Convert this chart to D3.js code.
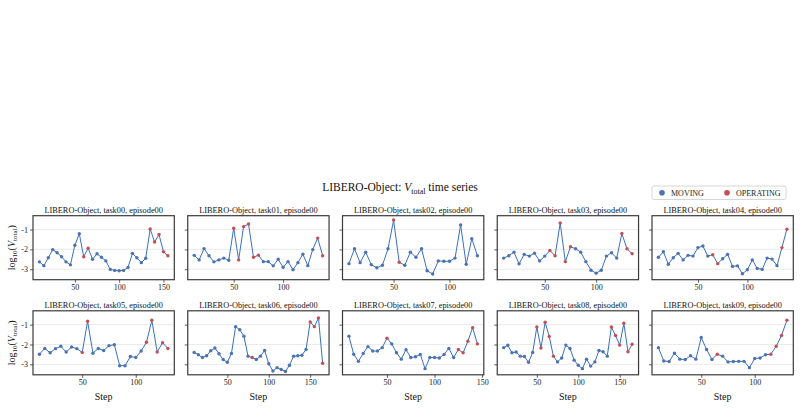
<!DOCTYPE html>
<html>
<head>
<meta charset="utf-8">
<script src="https://cdn.jsdelivr.net/npm/d3@7"></script>
<style>
  body { margin: 0; background: #fff; }
  svg { font-family: "Liberation Serif", "Times New Roman", serif; }
</style>
</head>
<body>
<div id="chart"></div>
<script>
// steps are sampled every 5 env steps, starting at step 10
var firstStep = 10, stepInterval = 5;

var tasks = ["task00", "task01", "task02", "task03", "task04",
             "task05", "task06", "task07", "task08", "task09"];

// log10(V_total) per sample
var vTask00 = [-2.63, -2.82, -2.42, -2.01, -2.17, -2.37, -2.63, -2.78, -1.79, -1.21,
               -2.37, -1.94, -2.50, -2.22, -2.40, -2.58, -3.01, -3.06, -3.08, -3.06,
               -2.91, -2.20, -2.42, -2.67, -2.45, -0.97, -1.63, -1.25, -2.12, -2.32];
var vTask01 = [-2.30, -2.53, -1.96, -2.32, -2.63, -2.53, -2.44, -2.55, -0.93, -2.53,
               -0.85, -0.72, -2.40, -2.29, -2.62, -2.62, -2.83, -2.50, -2.90, -2.62,
               -3.03, -2.67, -2.24, -2.82, -2.01, -1.43, -2.32];
var vTask02 = [-2.72, -1.97, -2.67, -2.14, -2.77, -2.93, -2.80, -1.97, -0.52, -2.65,
               -2.80, -2.14, -2.40, -1.97, -3.08, -3.24, -2.58, -2.60, -2.60, -2.44,
               -0.77, -2.75, -1.46, -2.32];
var vTask03 = [-2.44, -2.32, -2.14, -2.73, -2.25, -2.34, -2.19, -2.58, -2.34, -2.06,
               -2.32, -0.67, -2.62, -1.87, -1.97, -2.14, -2.62, -3.05, -3.20, -3.05,
               -2.34, -2.17, -2.44, -1.20, -1.97, -2.22];
var vTask04 = [-2.40, -2.12, -2.75, -2.42, -2.20, -2.53, -2.30, -2.34, -1.91, -1.83,
               -2.34, -2.27, -2.72, -2.47, -2.25, -2.86, -2.83, -3.23, -3.03, -2.53,
               -2.96, -3.01, -2.44, -2.49, -2.82, -1.91, -0.98];
var vTask05 = [-2.49, -2.20, -2.42, -2.21, -2.09, -2.38, -2.13, -2.21, -2.40, -0.83,
               -2.44, -2.20, -2.30, -2.06, -2.01, -3.07, -3.07, -2.61, -2.66, -2.33,
               -1.89, -0.78, -2.38, -1.91, -2.20];
var vTask06 = [-2.40, -2.52, -2.66, -2.57, -2.32, -2.18, -2.47, -2.76, -2.90, -2.45,
               -1.10, -1.26, -1.58, -2.59, -2.66, -2.76, -2.59, -2.30, -2.97, -3.34,
               -3.17, -3.26, -3.36, -3.05, -2.59, -2.57, -2.54, -2.25, -0.86, -1.10,
               -0.66, -2.95];
var vTask07 = [-1.58, -2.49, -2.85, -2.45, -2.11, -2.33, -2.33, -2.16, -1.68, -1.97,
               -2.42, -2.74, -2.26, -2.66, -2.62, -2.50, -3.22, -2.66, -2.66, -2.68,
               -2.50, -2.20, -2.66, -2.25, -2.42, -1.84, -1.15, -1.97];
var vTask08 = [-2.16, -2.04, -2.42, -2.38, -2.59, -2.61, -2.90, -2.40, -1.12, -2.18,
               -0.88, -1.60, -2.59, -2.88, -2.68, -2.03, -2.20, -2.79, -3.05, -3.22,
               -2.74, -3.09, -2.88, -2.30, -2.37, -2.59, -1.12, -1.55, -2.03, -0.93,
               -2.37, -1.99];
var vTask09 = [-2.16, -2.83, -2.86, -2.44, -2.74, -2.76, -2.57, -2.74, -1.65, -2.25,
               -2.76, -2.49, -2.59, -2.88, -2.86, -2.85, -2.85, -3.17, -2.71, -2.68,
               -2.52, -2.49, -2.09, -1.55, -0.78];

// steps labelled OPERATING, everything else is MOVING
var opTask00 = [60, 65, 135, 140, 145, 150, 155];
var opTask01 = [50, 55, 60, 65, 70, 75, 135, 140];
var opTask02 = [50, 55];
var opTask03 = [55, 60, 65, 70, 75, 125, 130, 135];
var opTask04 = [65, 70, 135, 140];
var opTask05 = [50, 55, 110, 115, 120, 125, 130];
var opTask06 = [80, 150, 155, 160, 165];
var opTask07 = [50, 125, 130, 135, 140, 145];
var opTask08 = [50, 55, 60, 65, 70, 140, 145, 150, 155, 160, 165];
var opTask09 = [65, 115, 120, 125, 130];

var values = [vTask00, vTask01, vTask02, vTask03, vTask04, vTask05, vTask06, vTask07, vTask08, vTask09];
var operating = [opTask00, opTask01, opTask02, opTask03, opTask04, opTask05, opTask06, opTask07, opTask08, opTask09];

var xTicks = [50, 100, 150];
var yTicks = [-1, -2, -3];
var phases = ["MOVING", "OPERATING"];
var phaseColor = { MOVING: "#4c72b0", OPERATING: "#c44e52" };

var svg, y;
var W = 801, H = 409;
var panelLeft0 = 33, panelPitch = 154.75, panelW = 141.3;
var rowTops = [215.7, 310.8], panelH = 64;

function drawChart() {
    svg = d3.select("#chart").append("svg")
        .attr("width", W)
        .attr("height", H);

    // shared y scale
    y = d3.scaleLinear().domain([-3.53, -0.3]).range([panelH, 0]);

    // suptitle
    var title = svg.append("text")
        .attr("x", 400)
        .attr("y", 191)
        .attr("text-anchor", "middle")
        .style("font-size", "11.5px")
        .attr("fill", "#111");
    title.append("tspan").text("LIBERO-Object: ");
    title.append("tspan").style("font-style", "italic").text("V");
    title.append("tspan").attr("dy", 2.5).style("font-size", "8px").text("total");
    title.append("tspan").attr("dy", -2.5).text(" time series");

    // legend
    var lg = svg.append("g").attr("transform", "translate(652,186)");
    lg.append("rect")
        .attr("width", 134).attr("height", 13.5).attr("rx", 2)
        .attr("fill", "#fff").attr("stroke", "#cccccc").attr("stroke-width", 0.8);
    var lx = [10, 75];
    phases.forEach(function(p, i) {
        lg.append("circle").attr("cx", lx[i]).attr("cy", 6.8).attr("r", 2.8)
            .attr("fill", phaseColor[p]);
        lg.append("text").attr("x", lx[i] + 9).attr("y", 9.6)
            .style("font-size", "8px").attr("fill", "#222").text(p);
    });

    tasks.forEach(function(t, i) {
        drawPanel(i, t);
    });

    // y labels for each row
    rowTops.forEach(function(top) {
        var yl = svg.append("text")
            .attr("transform", "translate(15," + (top + panelH / 2) + ") rotate(-90)")
            .attr("text-anchor", "middle")
            .style("font-size", "10px")
            .attr("fill", "#111");
        yl.append("tspan").text("log");
        yl.append("tspan").attr("dy", 2).style("font-size", "7px").text("10");
        yl.append("tspan").attr("dy", -2).text("(");
        yl.append("tspan").style("font-style", "italic").text("V");
        yl.append("tspan").attr("dy", 2).style("font-size", "7px").text("total");
        yl.append("tspan").attr("dy", -2).text(")");
    });
}

function drawPanel(i, taskName) {
    var col = i % 5, row = Math.floor(i / 5);
    var vals = values[i];
    var ops = operating[i];
    var data = vals.map(function(v, k) {
        var s = firstStep + k * stepInterval;
        return { step: s, value: v, phase: ops.indexOf(s) >= 0 ? "OPERATING" : "MOVING" };
    });

    var g = svg.append("g")
        .attr("transform", "translate(" + (panelLeft0 + col * panelPitch) + "," + rowTops[row] + ")");

    // x scale with matplotlib-like 5% margins
    var ext = d3.extent(data, function(d) { return d.step; });
    var pad = (ext[1] - ext[0]) * 0.05;
    var x = d3.scaleLinear().domain([ext[0] - pad, ext[1] + pad]).range([0, panelW]);

    // horizontal grid
    g.selectAll(".grid").data(yTicks).join("line")
        .attr("x1", 0).attr("x2", panelW)
        .attr("y1", function(d) { return y(d); })
        .attr("y2", function(d) { return y(d); })
        .attr("stroke", "#e6e6e6").attr("stroke-width", 0.8);

    // x axis
    var xa = g.append("g")
        .attr("transform", "translate(0," + panelH + ")")
        .call(d3.axisBottom(x)
            .tickValues(xTicks.filter(function(v) { return v >= x.domain()[0] && v <= x.domain()[1]; }))
            .tickSize(3).tickPadding(2).tickFormat(d3.format("d")));
    xa.select(".domain").remove();
    xa.selectAll("line").attr("stroke", "#333").attr("stroke-width", 0.8);
    xa.selectAll("text").style("font-size", "8px").attr("fill", "#222")
        .style("font-family", "Liberation Serif, serif");

    // y axis
    var ya = g.append("g")
        .call(d3.axisLeft(y).tickValues(yTicks).tickSize(3).tickPadding(2)
            .tickFormat(function(d) { return col === 0 ? "-" + Math.abs(d) : ""; }));
    ya.select(".domain").remove();
    ya.selectAll("line").attr("stroke", "#333").attr("stroke-width", 0.8);
    ya.selectAll("text").style("font-size", "8px").attr("fill", "#222")
        .style("font-family", "Liberation Serif, serif");

    // line
    var line = d3.line()
        .x(function(d) { return x(d.step); })
        .y(function(d) { return y(d.value); });
    g.append("path").datum(data)
        .attr("d", line)
        .attr("fill", "none")
        .attr("stroke", "#3a70bf")
        .attr("stroke-width", 1);

    // points
    g.selectAll(".pt").data(data).join("circle")
        .attr("cx", function(d) { return x(d.step); })
        .attr("cy", function(d) { return y(d.value); })
        .attr("r", 1.7)
        .attr("fill", function(d) { return phaseColor[d.phase]; });

    // frame
    g.append("rect")
        .attr("width", panelW).attr("height", panelH)
        .attr("fill", "none").attr("stroke", "#3a3a3a").attr("stroke-width", 1.2);

    // subplot title
    g.append("text")
        .attr("x", panelW / 2).attr("y", -2.8)
        .attr("text-anchor", "middle")
        .style("font-size", "8.3px").attr("fill", "#111")
        .text("LIBERO-Object, " + taskName + ", episode00");

    if (row === 1) {
        g.append("text")
            .attr("x", panelW / 2).attr("y", panelH + 25.5)
            .attr("text-anchor", "middle")
            .style("font-size", "10px").attr("fill", "#111")
            .text("Step");
    }
}

drawChart();
</script>
</body>
</html>
